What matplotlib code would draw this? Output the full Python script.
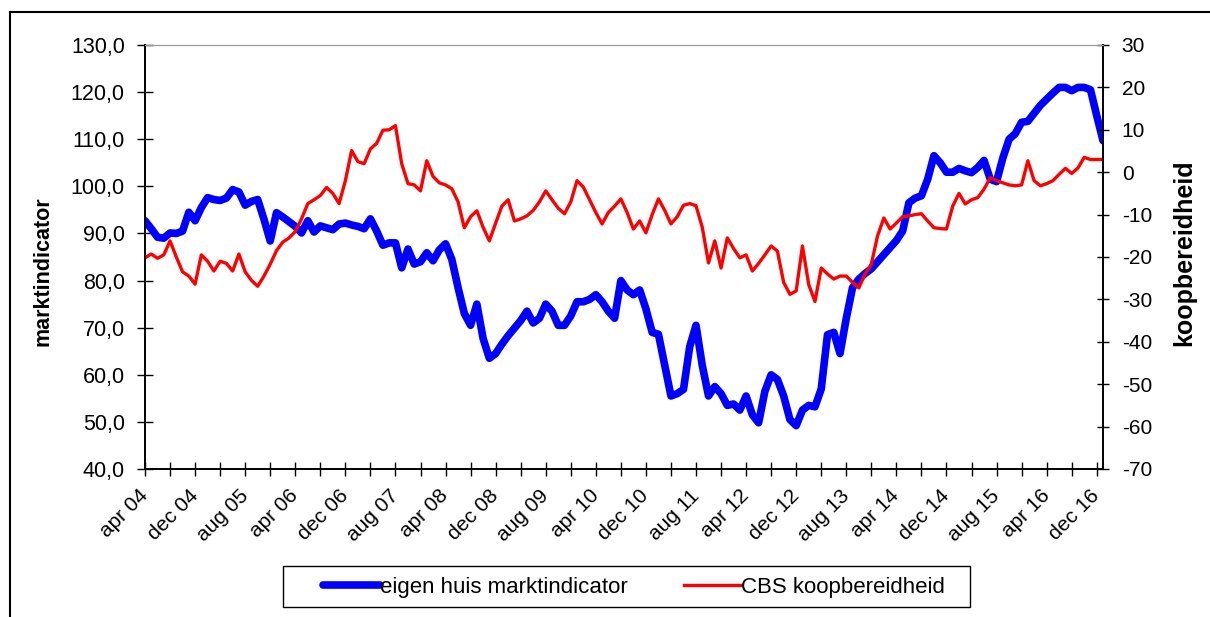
import numpy as np
import matplotlib.pyplot as plt
from matplotlib.lines import Line2D
from matplotlib.patches import Rectangle

plt.rcParams['font.family'] = ['Liberation Sans', 'DejaVu Sans']

# maandelijkse reeksen, apr 04 t/m jan 17
marktindicator = [
    92.7, 91.0, 89.2, 89.0, 90.1, 90.0, 90.5, 94.5, 92.7, 95.5,
    97.6, 97.2, 97.0, 97.5, 99.3, 98.8, 96.0, 96.8, 97.2, 93.0,
    88.4, 94.4, 93.5, 92.5, 91.5, 90.1, 92.7, 90.3, 91.6, 91.2,
    90.8, 92.0, 92.2, 91.8, 91.5, 91.0, 93.1, 90.5, 87.5, 88.0,
    88.0, 82.7, 86.7, 83.5, 84.0, 85.9, 84.2, 86.5, 87.8, 84.5,
    78.5, 73.0, 70.5, 75.0, 67.7, 63.5, 64.5, 66.5, 68.3, 69.9,
    71.5, 73.5, 71.0, 72.0, 75.0, 73.5, 70.5, 70.5, 72.5, 75.5,
    75.5, 76.0, 77.0, 75.5, 73.5, 72.0, 80.0, 78.0, 77.0, 78.0,
    74.0, 69.0, 68.6, 62.0, 55.5, 56.0, 56.9, 66.0, 70.5, 62.0,
    55.5, 57.5, 56.0, 53.5, 53.8, 52.5, 55.5, 51.5, 49.8, 56.5,
    60.0, 59.0, 55.5, 50.5, 49.2, 52.5, 53.5, 53.2, 57.0, 68.5,
    69.0, 64.5, 72.0, 78.5, 80.3, 81.5, 82.5, 84.0, 85.5, 87.0,
    88.5, 90.5, 96.5, 97.5, 98.0, 101.5, 106.5, 105.0, 103.0, 103.0,
    103.8, 103.3, 102.9, 104.0, 105.5, 101.5, 101.0, 106.0, 110.0, 111.2,
    113.6, 113.8, 115.5, 117.2, 118.5, 119.8, 121.0, 121.0, 120.3, 121.0,
    121.0, 120.5, 115.0, 109.7,
]

koopbereidheid = [
    -20.2, -19.3, -20.3, -19.5, -16.2, -20.0, -23.5, -24.5, -26.4, -19.5,
    -21.0, -23.3, -21.0, -21.5, -23.3, -19.3, -23.5, -25.5, -26.9, -24.5,
    -21.7, -18.5, -16.5, -15.5, -14.0, -11.0, -7.4, -6.5, -5.5, -3.6,
    -5.0, -7.4, -2.0, 5.1, 2.5, 2.0, 5.5, 6.8, 9.9, 10.0,
    11.0, 2.0, -2.7, -3.0, -4.4, 2.7, -1.0, -2.5, -3.0, -3.9,
    -7.0, -13.1, -10.5, -9.1, -13.0, -16.2, -12.0, -8.0, -6.5, -11.5,
    -11.0, -10.3, -9.0, -7.0, -4.4, -6.5, -8.5, -9.8, -7.0, -2.0,
    -3.5, -6.5, -9.5, -12.2, -9.5, -8.0, -6.3, -9.5, -13.4, -11.5,
    -14.3, -10.0, -6.3, -9.0, -12.2, -10.5, -7.8, -7.4, -7.9, -13.0,
    -21.4, -16.2, -22.6, -15.5, -18.0, -20.2, -19.5, -23.3, -21.5, -19.5,
    -17.4, -18.6, -26.0, -28.8, -28.0, -17.4, -26.5, -30.5, -22.6, -24.0,
    -25.2, -24.5, -24.5, -26.0, -27.3, -24.0, -21.7, -15.0, -10.8, -13.4,
    -12.0, -10.5, -10.3, -10.0, -9.8, -11.5, -13.1, -13.3, -13.4, -8.0,
    -5.0, -7.5, -6.5, -6.0, -4.0, -1.3, -2.0, -2.5, -3.0, -3.2,
    -3.0, 2.7, -2.0, -3.2, -2.7, -2.0, -0.5, 0.9, -0.3, 1.0,
    3.5, 3.0, 3.0, 3.0,
]

maanden = ['apr', 'dec', 'aug']
jaren = [4, 4, 5, 6, 6, 7, 8, 8, 9, 10, 10, 11, 12, 12, 13, 14, 14, 15, 16, 16]
x_labels = [f"{maanden[i % 3]} {j:02d}" for i, j in enumerate(jaren)]

links_ticks = list(range(40, 131, 10))
rechts_ticks = list(range(-70, 31, 10))

x = np.arange(len(marktindicator))

fig = plt.figure(figsize=(12.1, 6.17), dpi=100)
ax = fig.add_axes([145/1210, 1-469/617, 958/1210, 424/617])
ax2 = ax.twinx()

l1, = ax.plot(x, marktindicator, color='#0000FF', lw=5.5, solid_capstyle='round',
              solid_joinstyle='round', label='eigen huis marktindicator')
l2, = ax2.plot(x, koopbereidheid, color='#FF0000', lw=2.4, solid_joinstyle='round',
               label='CBS koopbereidheid')

ax.set_xlim(0, 153)
ax.set_ylim(40, 130)
ax2.set_ylim(-70, 30)

ax.set_xticks(np.arange(0, 153, 4), minor=True)
ax.set_xticks(np.arange(0, 153, 8))
ax.set_xticklabels(x_labels, rotation=45, ha='right', va='center',
                   rotation_mode='anchor', fontsize=15)
ax.tick_params(axis='x', which='both', direction='inout', length=10, width=1, pad=12)

ax.set_yticks(links_ticks)
ax.set_yticklabels([f"{v:.1f}".replace('.', ',') for v in links_ticks], fontsize=15.5)
ax.tick_params(axis='y', direction='inout', length=11, width=1, pad=9)
ax2.set_yticks(rechts_ticks)
ax2.set_yticklabels([str(v) for v in rechts_ticks], fontsize=15)
ax2.tick_params(axis='y', direction='inout', length=9, width=1, pad=9)

for a in (ax, ax2):
    a.spines['top'].set_color('#999999')
    for s in ('left', 'right', 'bottom'):
        a.spines[s].set_linewidth(1.2)

ax.set_ylabel('marktindicator', fontsize=15.5, fontweight='bold')
ax.yaxis.set_label_coords((53-145)/958, (469-271)/424)
ax2.set_ylabel('koopbereidheid', fontsize=18, fontweight='bold')
ax2.yaxis.set_label_coords((1172-145)/958, (469-253)/424)

# legenda met eigen kader
fig.legend(handles=[l1, l2], loc='center', bbox_to_anchor=(634/1210, 1-587/617), ncol=2,
           fontsize=16, frameon=False, handlelength=2.6, handletextpad=0.0,
           columnspacing=2.5)
fig.add_artist(Rectangle((283/1210, 1-607/617), 687/1210, 41/617, fill=False,
                         edgecolor='black', lw=1.0, transform=fig.transFigure))

# kader rond de grafiek
fig.add_artist(Line2D([10/1210, 10/1210], [0, 1-12/617], color='black', lw=1.5))
fig.add_artist(Line2D([10/1210, 1], [1-12/617, 1-12/617], color='black', lw=1.5))

fig.savefig('out.png', dpi=100)
